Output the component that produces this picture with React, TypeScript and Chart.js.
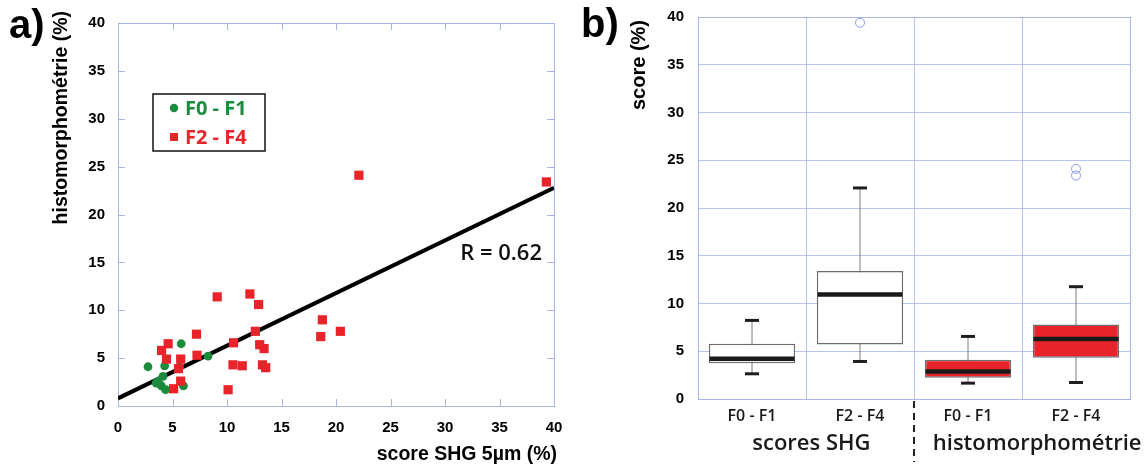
import React, { useEffect, useRef } from 'react';
import { Chart, registerables } from 'chart.js';

Chart.register(...registerables);

// ---------- Panel a) data ----------
const f01Label = 'F0 - F1';
const f01X = [2.75, 4.28, 5.8, 8.26, 4.13, 3.5, 3.7, 3.98, 4.37, 6.0, 5.65];
const f01Y = [4.1, 4.2, 6.5, 5.2, 3.1, 2.4, 2.6, 2.1, 1.7, 2.1, 4.1];
const f24Label = 'F2 - F4';
const f24X = [9.1, 12.1, 12.9, 12.6, 7.2, 4.6, 4.0, 4.45, 5.75, 5.55, 5.75, 5.1, 7.25, 10.6, 10.55, 11.4, 13.0, 13.4, 13.25, 13.55, 10.1, 18.6, 18.75, 20.4, 22.1, 39.3];
const f24Y = [11.4, 11.7, 10.6, 7.8, 7.5, 6.5, 5.8, 4.9, 4.9, 3.9, 2.6, 1.8, 5.3, 6.6, 4.3, 4.2, 6.4, 6.0, 4.3, 4.0, 1.7, 7.25, 9.0, 7.8, 24.1, 23.4];
const fitX = [0, 40];
const fitY = [0.8, 22.8];
const rText = 'R = 0.62';
const rAnchor = [38.9, 15.25];
const scatterMin = 0;
const scatterMax = 40;
const scatterStep = 5;
const aXTitle = 'score SHG 5µm (%)';
const aYTitle = 'histomorphométrie (%)';

// ---------- Panel b) data ----------
const boxLabels = ['F0 - F1', 'F2 - F4', 'F0 - F1', 'F2 - F4'];
const boxMin = [2.64, 3.93, 1.66, 1.73];
const boxQ1 = [3.75, 5.71, 2.22, 4.32];
const boxMedian = [4.21, 10.95, 2.88, 6.27];
const boxQ3 = [5.79, 13.4, 4.1, 7.81];
const boxMax = [8.23, 22.1, 6.55, 11.76];
const outlierIndex = [1, 3, 3];
const outlierValue = [39.4, 24.1, 23.4];
const groupLabels = ['scores SHG', 'histomorphométrie'];
const groupCenters = [0.55, 2.64];
const groupDivider = 1.5;
const bYTitle = 'score (%)';

// ---------- styles ----------
const GREEN = '#1b8b3d';
const RED = '#e8232a';
const AXIS = '#a9b4ea';
const GRID = '#b7c2ef';
const boxFill = ['#ffffff', '#ffffff', RED, RED];
const TICK_FONT = { family: 'Liberation Sans, Arial, sans-serif', size: 15, weight: 'bold' as const };

const zeroPad = (s: any) => {
  s.paddingTop = 0;
  s.paddingBottom = 0;
  s.paddingLeft = 0;
  s.paddingRight = 0;
};

const panelAPlugin = {
  id: 'panelA',
  beforeDatasetsDraw(chart: any) {
    const { ctx, chartArea: ca, scales } = chart;
    ctx.save();
    ctx.strokeStyle = AXIS;
    ctx.lineWidth = 1;
    ctx.strokeRect(ca.left + 0.5, ca.top + 0.5, ca.right - ca.left, ca.bottom - ca.top);
    ctx.beginPath();
    scales.x.ticks.forEach((t: any) => {
      const px = Math.round(scales.x.getPixelForValue(t.value)) + 0.5;
      ctx.moveTo(px, ca.bottom);
      ctx.lineTo(px, ca.bottom - 7);
      ctx.moveTo(px, ca.top);
      ctx.lineTo(px, ca.top + 7);
    });
    scales.y.ticks.forEach((t: any) => {
      const py = Math.round(scales.y.getPixelForValue(t.value)) + 0.5;
      ctx.moveTo(ca.left, py);
      ctx.lineTo(ca.left + 7, py);
      ctx.moveTo(ca.right, py);
      ctx.lineTo(ca.right - 7, py);
    });
    ctx.stroke();
    ctx.restore();
  },
  afterDraw(chart: any) {
    const { ctx, scales } = chart;
    ctx.save();
    // legend
    ctx.strokeStyle = '#111';
    ctx.lineWidth = 1.5;
    ctx.strokeRect(153, 94, 112, 57);
    ctx.font = 'bold 20px "Open Sans", sans-serif';
    ctx.textBaseline = 'middle';
    ctx.textAlign = 'left';
    const legendItems = [chart.data.datasets[1], chart.data.datasets[2]];
    legendItems.forEach((ds: any, i: number) => {
      const cy = 108 + i * 29;
      ctx.fillStyle = ds.pointBackgroundColor;
      if (ds.pointStyle === 'circle') {
        ctx.beginPath();
        ctx.arc(174, cy, 4.2, 0, Math.PI * 2);
        ctx.fill();
      } else {
        ctx.fillRect(170, cy - 4, 8, 8);
      }
      ctx.fillText(ds.label, 185, cy + 1);
    });
    // R label
    ctx.fillStyle = '#111';
    ctx.font = '600 22px "Open Sans", sans-serif';
    ctx.textAlign = 'right';
    ctx.textBaseline = 'alphabetic';
    ctx.fillText(rText, scales.x.getPixelForValue(rAnchor[0]), scales.y.getPixelForValue(rAnchor[1]));
    // panel letter
    ctx.fillStyle = '#000';
    ctx.font = 'bold 40px "Liberation Sans", Arial, sans-serif';
    ctx.textAlign = 'left';
    ctx.fillText('a)', 9, 38);
    // axis titles
    ctx.font = 'bold 19.5px "Liberation Sans", Arial, sans-serif';
    ctx.textAlign = 'right';
    ctx.textBaseline = 'middle';
    ctx.fillText(aXTitle, 557, 455);
    ctx.translate(62, 11);
    ctx.rotate(-Math.PI / 2);
    ctx.fillText(aYTitle, 0, 0);
    ctx.restore();
  },
};

const panelBPlugin = {
  id: 'panelB',
  beforeDatasetsDraw(chart: any) {
    const { ctx, chartArea: ca } = chart;
    ctx.save();
    ctx.strokeStyle = AXIS;
    ctx.lineWidth = 1;
    ctx.strokeRect(ca.left + 0.5, ca.top + 0.5, ca.right - ca.left, ca.bottom - ca.top);
    ctx.restore();
  },
  afterDraw(chart: any) {
    const { ctx, chartArea: ca, scales } = chart;
    const xl = scales.xl;
    ctx.save();
    // divider
    ctx.strokeStyle = '#222';
    ctx.lineWidth = 2;
    ctx.setLineDash([7, 5]);
    ctx.beginPath();
    const dx = Math.round(xl.getPixelForValue(groupDivider));
    ctx.moveTo(dx, ca.bottom + 2);
    ctx.lineTo(dx, 462);
    ctx.stroke();
    ctx.setLineDash([]);
    // group labels
    ctx.fillStyle = '#1a1a1a';
    ctx.font = '600 22px "Open Sans", sans-serif';
    ctx.textAlign = 'center';
    ctx.textBaseline = 'middle';
    groupLabels.forEach((g, i) => {
      ctx.fillText(g, xl.getPixelForValue(groupCenters[i]), 444);
    });
    // panel letter
    ctx.fillStyle = '#000';
    ctx.font = 'bold 40px "Liberation Sans", Arial, sans-serif';
    ctx.textAlign = 'left';
    ctx.textBaseline = 'alphabetic';
    ctx.fillText('b)', 6, 37);
    // y title
    ctx.font = 'bold 20px "Liberation Sans", Arial, sans-serif';
    ctx.textAlign = 'right';
    ctx.textBaseline = 'middle';
    ctx.translate(64, 20);
    ctx.rotate(-Math.PI / 2);
    ctx.fillText(bYTitle, 0, 0);
    ctx.restore();
  },
};

export default function App() {
  const aRef = useRef<HTMLCanvasElement>(null);
  const bRef = useRef<HTMLCanvasElement>(null);

  useEffect(() => {
    const chartA = new Chart(aRef.current as HTMLCanvasElement, {
      type: 'scatter',
      data: {
        datasets: [
          {
            type: 'line',
            label: 'fit',
            data: fitX.map((x, i) => ({ x, y: fitY[i] })),
            borderColor: '#000',
            borderWidth: 4,
            pointRadius: 0,
            order: 3,
          },
          {
            type: 'scatter',
            label: f01Label,
            data: f01X.map((x, i) => ({ x, y: f01Y[i] })),
            pointStyle: 'circle',
            pointRadius: 4.4,
            pointBackgroundColor: GREEN,
            pointBorderColor: GREEN,
            pointBorderWidth: 0,
            order: 2,
          },
          {
            type: 'scatter',
            label: f24Label,
            data: f24X.map((x, i) => ({ x, y: f24Y[i] })),
            pointStyle: 'rect',
            pointRadius: 6.5,
            pointBackgroundColor: RED,
            pointBorderColor: RED,
            pointBorderWidth: 0,
            order: 1,
          },
        ],
      } as any,
      options: {
        responsive: false,
        animation: false,
        events: [],
        layout: { autoPadding: false, padding: { left: 0, right: 21, top: 23, bottom: 0 } },
        plugins: { legend: { display: false }, tooltip: { enabled: false } },
        scales: {
          x: {
            type: 'linear',
            min: scatterMin,
            max: scatterMax,
            ticks: { stepSize: scatterStep, font: TICK_FONT, color: '#000', padding: 13 },
            grid: { display: false, drawTicks: false },
            border: { display: false },
            afterFit: (s: any) => {
              s.height = 59;
              zeroPad(s);
            },
          },
          y: {
            type: 'linear',
            min: scatterMin,
            max: scatterMax,
            ticks: { stepSize: scatterStep, font: TICK_FONT, color: '#000', padding: 13 },
            grid: { display: false, drawTicks: false },
            border: { display: false },
            afterFit: (s: any) => {
              s.width = 118;
              zeroPad(s);
            },
          },
        },
      } as any,
      plugins: [panelAPlugin],
    });

    const chartB = new Chart(bRef.current as HTMLCanvasElement, {
      type: 'bar',
      data: {
        labels: boxLabels,
        datasets: [
          {
            type: 'bar',
            label: 'box',
            data: boxLabels.map((_, i) => [boxQ1[i], boxQ3[i]]),
            backgroundColor: boxFill,
            borderColor: '#6e6e6e',
            borderWidth: 1.5,
            borderSkipped: false,
            grouped: false,
            categoryPercentage: 0.8,
            barPercentage: 1,
            xAxisID: 'x',
            yAxisID: 'y',
            order: 2,
          },
          {
            type: 'line',
            label: 'whiskers',
            data: boxLabels.flatMap((_, i) => [
              { x: i, y: boxMin[i] },
              { x: i, y: boxMax[i] },
              { x: i, y: null },
            ]),
            xAxisID: 'xl',
            yAxisID: 'y',
            borderColor: '#7d7d7d',
            borderWidth: 1,
            pointRadius: 0,
            spanGaps: false,
            order: 3,
          },
          {
            type: 'scatter',
            label: 'caps',
            data: boxLabels.flatMap((_, i) => [
              { x: i, y: boxMin[i] },
              { x: i, y: boxMax[i] },
            ]),
            xAxisID: 'xl',
            yAxisID: 'y',
            pointStyle: 'line',
            pointRadius: 7,
            pointBorderWidth: 3,
            pointBorderColor: '#1e1e1e',
            order: 1,
          },
          {
            type: 'scatter',
            label: 'median',
            data: boxLabels.map((_, i) => ({ x: i, y: boxMedian[i] })),
            xAxisID: 'xl',
            yAxisID: 'y',
            pointStyle: 'line',
            pointRadius: 42.5,
            pointBorderWidth: 4.5,
            pointBorderColor: '#1a1a1a',
            order: 0,
          },
          {
            type: 'scatter',
            label: 'outliers',
            data: outlierIndex.map((c, k) => ({ x: c, y: outlierValue[k] })),
            xAxisID: 'xl',
            yAxisID: 'y',
            pointStyle: 'circle',
            pointRadius: 4.5,
            pointBackgroundColor: 'rgba(255,255,255,0)',
            pointBorderColor: '#8e9be4',
            pointBorderWidth: 1,
            order: 0,
          },
        ],
      } as any,
      options: {
        responsive: false,
        animation: false,
        events: [],
        layout: { autoPadding: false, padding: { left: 0, right: 17, top: 17, bottom: 0 } },
        plugins: { legend: { display: false }, tooltip: { enabled: false } },
        scales: {
          x: {
            type: 'category',
            position: 'bottom',
            offset: true,
            grid: { display: true, color: GRID, offset: true, drawTicks: false },
            border: { display: false },
            ticks: {
              font: { family: '"Open Sans", sans-serif', size: 16, weight: '600' },
              color: '#1a1a1a',
              padding: 8,
            },
            afterFit: (s: any) => {
              s.height = 66;
              zeroPad(s);
            },
          },
          xl: {
            type: 'linear',
            position: 'bottom',
            display: false,
            offset: false,
            grid: { offset: false },
            min: -0.5,
            max: 3.5,
          },
          y: {
            type: 'linear',
            min: 0,
            max: 40,
            ticks: { stepSize: 5, font: TICK_FONT, color: '#000', padding: 14 },
            grid: { display: true, color: GRID, drawTicks: false },
            border: { display: false },
            afterFit: (s: any) => {
              s.width = 123;
              zeroPad(s);
            },
          },
        },
      } as any,
      plugins: [panelBPlugin],
    });

    return () => {
      chartA.destroy();
      chartB.destroy();
    };
  }, []);

  return (
    <div style={{ position: 'absolute', left: 0, top: 0, width: 1147, height: 465, background: '#fff', overflow: 'hidden' }}>
      <canvas ref={aRef} width={575} height={465} style={{ position: 'absolute', left: 0, top: 0 }} />
      <canvas ref={bRef} width={572} height={465} style={{ position: 'absolute', left: 575, top: 0 }} />
    </div>
  );
}
